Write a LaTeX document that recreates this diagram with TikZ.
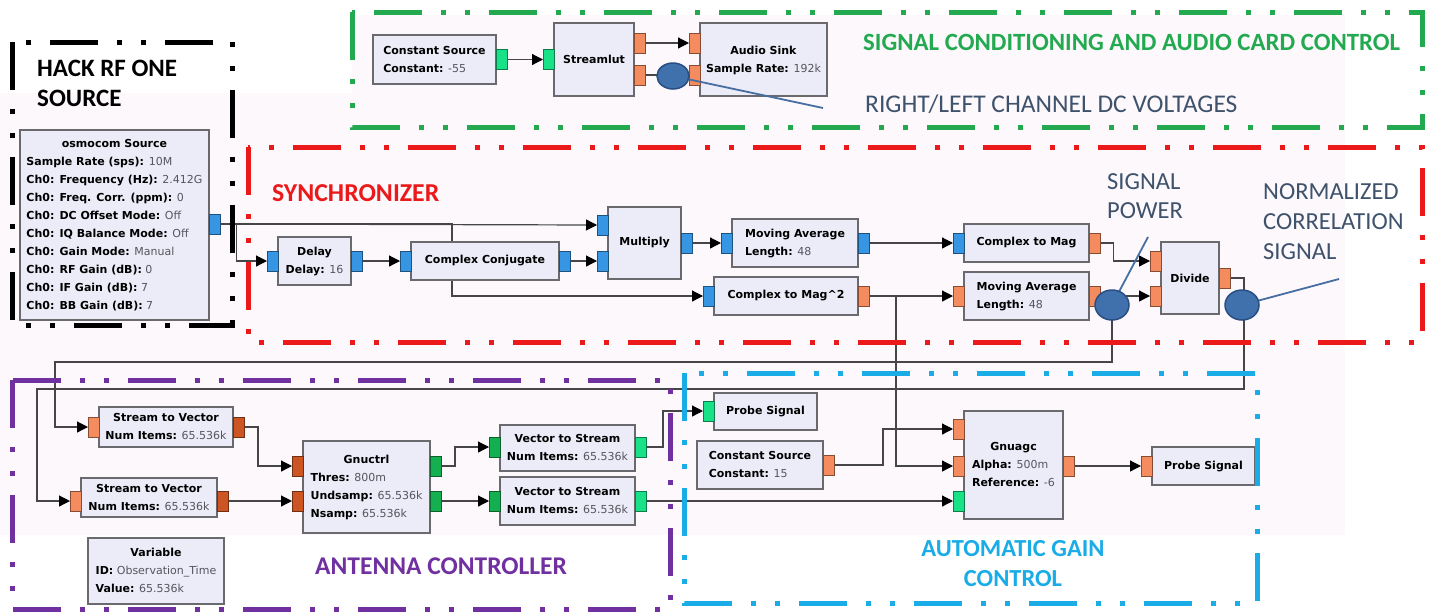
\documentclass[tikz,border=0pt]{standalone}
\usepackage{fontspec}
\usetikzlibrary{arrows.meta,shapes.geometric}
\newfontfamily\lbl{Carlito}
\newfontfamily\gr{DejaVu Sans}
\definecolor{blkfill}{RGB}{236,236,248}
\definecolor{blkdraw}{RGB}{105,105,110}
\definecolor{valc}{RGB}{85,85,95}
\definecolor{wirec}{RGB}{70,70,70}
\definecolor{pblue}{RGB}{55,150,228}
\definecolor{porange}{RGB}{245,140,95}
\definecolor{pdorange}{RGB}{205,85,35}
\definecolor{pgreen}{RGB}{25,225,135}
\definecolor{pdgreen}{RGB}{20,175,80}
\definecolor{fgreen}{RGB}{35,170,80}
\definecolor{fred}{RGB}{235,25,25}
\definecolor{fpurple}{RGB}{112,48,160}
\definecolor{fcyan}{RGB}{25,172,230}
\definecolor{annc}{RGB}{62,82,108}
\definecolor{annline}{RGB}{70,110,160}
\definecolor{ellfill}{RGB}{65,113,172}
\definecolor{elldraw}{RGB}{40,78,130}
\definecolor{bgc}{RGB}{252,248,252}
\pgfdeclarelayer{bg}\pgfdeclarelayer{wires}\pgfdeclarelayer{annot}\pgfdeclarelayer{top}
\pgfsetlayers{bg,wires,main,annot,top}
\newcommand\ttl[1]{\multicolumn{1}{@{}c@{}}{\textbf{#1}}}
\newcommand\prm[2]{\textbf{#1:} {\color{valc}#2}}
\newcommand\bt[1]{\begin{tabular}{@{}l@{}}#1\end{tabular}}
\newcommand\blockat[6]{\node[blk, minimum width={#4pt-#2pt}, minimum height={#5pt-#3pt}] (#1) at ({(#2+#4)/2},{(#3+#5)/2}) {#6};}
\newcommand\portat[4]{\node[prt, fill=#4, draw=#4!55!black, anchor=west] (#1) at (#2,#3) {};}
\tikzset{
  blk/.style={draw=blkdraw, fill=blkfill, line width=1.2pt, inner sep=0pt, font=\gr\fontsize{11}{18}\selectfont, text=black},
  prt/.style={minimum width=11pt, minimum height=20pt, inner sep=0pt, line width=0.8pt},
  wire/.style={draw=wirec, line width=1.2pt},
  arr/.style={wire, -{Triangle[length=11pt,width=11pt,color=black]}},
  frame/.style={line width=5pt, dash pattern=on 48pt off 19pt on 5pt off 19pt on 5pt off 19pt},
  annoell/.style={ellipse, fill=ellfill, draw=elldraw, line width=1.5pt, inner sep=0pt},
  annoline/.style={draw=annline, line width=1.8pt},
  lab/.style={inner sep=0pt, font=\lbl\fontsize{24}{29.5}\selectfont, align=left},
  blab/.style={inner sep=0pt, font=\lbl\bfseries\fontsize{25}{30}\selectfont, align=left}
}
\begin{document}
\begin{tikzpicture}[x=1pt,y=-1pt]
\useasboundingbox (0,0) rectangle (1431,611);
\begin{pgfonlayer}{bg}
  \fill[white] (0,0) rectangle (1431,611);
  \fill[bgc] (0,93) rectangle (1345,535);
  \fill[bgc] (352,15) rectangle (1345,93);
\end{pgfonlayer}

% ---------- blocks ----------
\blockat{cs55}{373}{35}{496}{84}{\bt{\ttl{Constant Source}\\ \prm{Constant}{-55}}}
\blockat{slut}{554}{23}{634}{96}{\textbf{Streamlut}}
\blockat{asink}{700}{23}{827}{96}{\bt{\ttl{Audio Sink}\\ \prm{Sample Rate}{192k}}}

\blockat{osmo}{20}{130}{209}{320}{\bt{\ttl{osmocom Source}\\
  \prm{Sample Rate (sps)}{10M}\\
  \prm{Ch0: Frequency (Hz)}{2.412G}\\
  \prm{Ch0: Freq. Corr. (ppm)}{0}\\
  \prm{Ch0: DC Offset Mode}{Off}\\
  \prm{Ch0: IQ Balance Mode}{Off}\\
  \prm{Ch0: Gain Mode}{Manual}\\
  \prm{Ch0: RF Gain (dB)}{0}\\
  \prm{Ch0: IF Gain (dB)}{7}\\
  \prm{Ch0: BB Gain (dB)}{7}}}

\blockat{delay}{278}{237}{351}{285}{\bt{\ttl{Delay}\\ \prm{Delay}{16}}}
\blockat{cc}{411}{242}{559}{280}{\textbf{Complex Conjugate}}
\blockat{mult}{608}{207}{681}{279}{\textbf{Multiply}}
\blockat{ma1}{732}{219}{858}{267}{\bt{\ttl{Moving Average}\\ \prm{Length}{48}}}
\blockat{cm2}{714}{277}{858}{315}{\textbf{Complex to Mag\textasciicircum 2}}
\blockat{cm}{964}{224}{1089}{262}{\textbf{Complex to Mag}}
\blockat{ma2}{964}{272}{1089}{320}{\bt{\ttl{Moving Average}\\ \prm{Length}{48}}}
\blockat{div}{1161}{242}{1219}{314}{\textbf{Divide}}

\blockat{stv1}{99}{407}{233}{447}{\bt{\ttl{Stream to Vector}\\ \prm{Num Items}{65.536k}}}
\blockat{stv2}{81}{478}{217}{517}{\bt{\ttl{Stream to Vector}\\ \prm{Num Items}{65.536k}}}
\blockat{gctl}{303}{441}{430}{533}{\bt{\ttl{Gnuctrl}\\ \prm{Thres}{800m}\\ \prm{Undsamp}{65.536k}\\ \prm{Nsamp}{65.536k}}}
\blockat{vts1}{500}{425}{635}{471}{\bt{\ttl{Vector to Stream}\\ \prm{Num Items}{65.536k}}}
\blockat{vts2}{500}{477}{635}{525}{\bt{\ttl{Vector to Stream}\\ \prm{Num Items}{65.536k}}}
\blockat{var}{88}{538}{224}{604}{\bt{\ttl{Variable}\\ \prm{ID}{Observation\_Time}\\ \prm{Value}{65.536k}}}

\blockat{pr1}{714}{393}{817}{430}{\textbf{Probe Signal}}
\blockat{cs15}{697}{441}{823}{489}{\bt{\ttl{Constant Source}\\ \prm{Constant}{15}}}
\blockat{agc}{964}{411}{1063}{519}{\bt{\ttl{Gnuagc}\\ \prm{Alpha}{500m}\\ \prm{Reference}{-6}}}
\blockat{pr2}{1152}{447}{1255}{485}{\textbf{Probe Signal}}

% ---------- ports ----------
\portat{cs55-o}{496}{59.5}{pgreen}
\portat{slut-i}{543}{59.5}{pgreen}
\portat{slut-o1}{634}{43}{porange}
\portat{slut-o2}{634}{75}{porange}
\portat{asink-i1}{689}{43}{porange}
\portat{asink-i2}{689}{75}{porange}

\portat{osmo-o}{209}{224}{pblue}
\portat{delay-i}{267}{261}{pblue}
\portat{delay-o}{351}{261}{pblue}
\portat{cc-i}{400}{261}{pblue}
\portat{cc-o}{559}{261}{pblue}
\portat{mult-i1}{597}{225}{pblue}
\portat{mult-i2}{597}{261}{pblue}
\portat{mult-o}{681}{243}{pblue}
\portat{ma1-i}{721}{243}{pblue}
\portat{ma1-o}{858}{243}{pblue}
\portat{cm-i}{953}{243}{pblue}
\portat{cm-o}{1089}{243}{porange}
\portat{cm2-i}{703}{296}{pblue}
\portat{cm2-o}{858}{296}{porange}
\portat{ma2-i}{953}{296}{porange}
\portat{ma2-o}{1089}{296}{porange}
\portat{div-i1}{1150}{261}{porange}
\portat{div-i2}{1150}{296}{porange}
\portat{div-o}{1219}{278}{porange}

\portat{stv1-i}{88}{427}{porange}
\portat{stv1-o}{233}{427}{pdorange}
\portat{stv2-i}{70}{501}{porange}
\portat{stv2-o}{217}{501}{pdorange}
\portat{gctl-i1}{292}{466}{pdorange}
\portat{gctl-i2}{292}{501}{pdorange}
\portat{gctl-o1}{430}{466}{pdgreen}
\portat{gctl-o2}{430}{501}{pdgreen}
\portat{vts1-i}{489}{447}{pdgreen}
\portat{vts1-o}{635}{447}{pgreen}
\portat{vts2-i}{489}{501}{pdgreen}
\portat{vts2-o}{635}{501}{pgreen}

\portat{pr1-i}{703}{411}{pgreen}
\portat{cs15-o}{823}{465}{porange}
\portat{agc-i1}{953}{429}{porange}
\portat{agc-i2}{953}{466}{porange}
\portat{agc-i3}{953}{501}{pgreen}
\portat{agc-o}{1063}{466}{porange}
\portat{pr2-i}{1141}{466}{porange}

% ---------- wires ----------
\begin{pgfonlayer}{wires}
\draw[arr] (cs55-o.east) -- (slut-i.west);
\draw[arr] (slut-o1.east) -- (asink-i1.west);
\draw[arr] (slut-o2.east) -- (asink-i2.west);
\draw[arr] (osmo-o.east) -- (mult-i1.west);
\draw[arr] (osmo-o.east) -- ++(16,0) |- (delay-i.west);
\draw[arr] (osmo-o.east) -- (452,224) |- (cm2-i.west);
\draw[arr] (delay-o.east) -- (cc-i.west);
\draw[arr] (cc-o.east) -- (mult-i2.west);
\draw[arr] (mult-o.east) -- (ma1-i.west);
\draw[arr] (ma1-o.east) -- (cm-i.west);
\draw[arr] (cm-o.east) -- ++(13,0) |- (div-i1.west);
\draw[arr] (cm2-o.east) -- (ma2-i.west);
\draw[arr] (cm2-o.east) -- (896,296) |- (agc-i2.west);
\draw[arr] (ma2-o.east) -- (div-i2.west);
\draw[arr] (ma2-o.east) -- (1112,296) |- (55,362) |- (stv1-i.west);
\draw[arr] (div-o.east) -- (1244,278) |- (37,389) |- (stv2-i.west);
\draw[arr] (stv1-o.east) -- (258,427) |- (gctl-i1.west);
\draw[arr] (stv2-o.east) -- (gctl-i2.west);
\draw[arr] (gctl-o1.east) -- (455,466) |- (vts1-i.west);
\draw[arr] (gctl-o2.east) -- (vts2-i.west);
\draw[arr] (vts1-o.east) -- (663,447) |- (pr1-i.west);
\draw[arr] (vts2-o.east) -- (agc-i3.west);
\draw[arr] (cs15-o.east) -- (883,465) |- (agc-i1.west);
\draw[arr] (agc-o.east) -- (pr2-i.west);
\end{pgfonlayer}

% ---------- annotations, frames, labels ----------
\begin{pgfonlayer}{top}
\node[annoell, minimum width=32pt, minimum height=26pt] (e1) at (673,76) {};
\node[annoell, minimum width=34pt, minimum height=30pt] (e2) at (1112,305) {};
\node[annoell, minimum width=34pt, minimum height=30pt] (e3) at (1242,305) {};

\draw[frame, black] (12,42) rectangle (232,325);
\draw[frame, fgreen] (352,12) rectangle (1422,127);
\draw[frame, fred] (248,147) rectangle (1422,342);
\draw[frame, fpurple] (12,380) rectangle (670,609);
\draw[frame, fcyan] (684,373) rectangle (1257,603);

\node[blab, anchor=west] (thack) at (37,83) {HACK RF ONE\\SOURCE};
\node[blab, anchor=west, text=fgreen, font=\lbl\bfseries\fontsize{24.8}{28}\selectfont] (tsig) at (863,42) {SIGNAL CONDITIONING AND AUDIO CARD CONTROL};
\node[lab, anchor=west, text=annc, font=\lbl\fontsize{25.5}{28}\selectfont] (trl) at (865,104) {RIGHT/LEFT CHANNEL DC VOLTAGES};
\node[blab, anchor=west, text=fred, font=\lbl\bfseries\fontsize{25.8}{30}\selectfont] (tsync) at (272,193) {SYNCHRONIZER};
\node[lab, anchor=west, text=annc, font=\lbl\fontsize{24.5}{29.5}\selectfont] (tsp) at (1107,196) {SIGNAL\\POWER};
\node[lab, anchor=west, text=annc, font=\lbl\fontsize{24.5}{30}\selectfont] (tnc) at (1263,222) {NORMALIZED\\CORRELATION\\SIGNAL};
\node[blab, anchor=west, text=fpurple, font=\lbl\bfseries\fontsize{25.5}{30}\selectfont] (tant) at (315,566) {ANTENNA CONTROLLER};
\node[blab, align=center, text=fcyan, font=\lbl\bfseries\fontsize{24.5}{30}\selectfont] (tagc) at (1013,564) {AUTOMATIC GAIN\\CONTROL};
\end{pgfonlayer}

\coordinate (rlend) at (823,108);
\coordinate (spend) at (1148,237);
\coordinate (ncend) at (1339,279);
\begin{pgfonlayer}{annot}
\draw[annoline] (e1.center) -- (rlend);
\draw[annoline] (e2.center) -- (spend);
\draw[annoline] (e3.center) -- (ncend);
\end{pgfonlayer}
\end{tikzpicture}
\end{document}
